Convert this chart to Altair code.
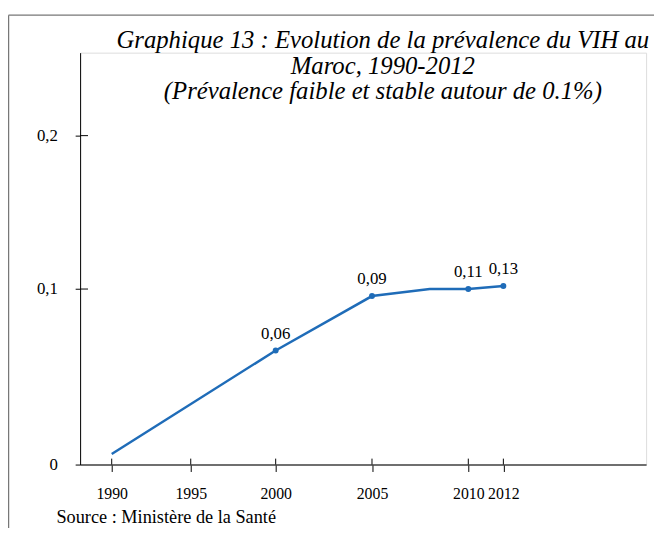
import altair as alt
import pandas as pd

years = [1990, 2000, 2005, 2008, 2010, 2012]
values = [0.006, 0.065, 0.096, 0.100, 0.100, 0.102]
marker_years = [2000, 2005, 2010, 2012]
marker_values = [0.065, 0.096, 0.100, 0.102]
marker_labels = ["0,06", "0,09", "0,11", "0,13"]
x_ticks = [1990, 1995, 2000, 2005, 2010, 2012]
y_ticks = [0, 0.1, 0.2]
title_lines = [
    "Graphique 13 : Evolution de la prévalence du VIH au",
    "Maroc, 1990-2012",
    "(Prévalence faible et stable autour de 0.1%)",
]
source_text = "Source : Ministère de la Santé"

W, H = 573, 417
FONT = "Liberation Serif"
BLUE = "#1F6CB8"

line_df = pd.DataFrame({"year": years, "value": values})
pts_df = pd.DataFrame({"year": marker_years, "value": marker_values, "label": marker_labels})
xt_df = pd.DataFrame({"year": x_ticks})
yt_df = pd.DataFrame({"v": [v for v in y_ticks if v > 0]})

xscale = alt.Scale(
    type="linear",
    domain=[1988, 1990, 1995, 2000, 2005, 2010, 2012, 2020],
    range=[0, 32, 112, 198, 295.5, 393, 428.5, W],
    nice=False, zero=False,
)
yscale = alt.Scale(
    type="linear",
    domain=[0, 0.1, 0.2, 0.254],
    range=[H, 239.3, 84, 0],
    nice=False, zero=False,
)

xax = alt.Axis(
    values=x_ticks, format="d", grid=False, title=None,
    domainColor="#444", domainWidth=1.5, tickColor="#000", tickSize=7, tickWidth=1,
    labelFont=FONT, labelFontSize=16, labelColor="#000", labelPadding=14,
    labelFlush=False, labelOverlap=False,
)
yax = alt.Axis(
    values=y_ticks, grid=False, title=None,
    labelExpr="datum.value == 0 ? '0' : replace(toString(datum.value), '.', ',')",
    domainColor="#000", domainWidth=1, tickColor="#000", tickSize=5, tickWidth=1,
    labelFont=FONT, labelFontSize=17, labelColor="#000", labelPadding=18,
)

line = alt.Chart(line_df).mark_line(color=BLUE, strokeWidth=2.5).encode(
    x=alt.X("year:Q", scale=xscale, axis=xax),
    y=alt.Y("value:Q", scale=yscale, axis=yax),
)
pts = alt.Chart(pts_df).mark_circle(color=BLUE, size=36, opacity=1).encode(
    x=alt.X("year:Q", scale=xscale),
    y=alt.Y("value:Q", scale=yscale),
)
labels = alt.Chart(pts_df).mark_text(
    font=FONT, fontSize=17, color="#000", dy=-17, baseline="middle"
).encode(
    x=alt.X("year:Q", scale=xscale),
    y=alt.Y("value:Q", scale=yscale),
    text="label:N",
)
# inner half of the crossing ticks
xt_inner = alt.Chart(xt_df).mark_rule(color="#000", strokeWidth=1).encode(
    x=alt.X("year:Q", scale=xscale),
    y=alt.value(H - 6), y2=alt.value(H),
)
yt_inner = alt.Chart(yt_df).mark_rule(color="#000", strokeWidth=1).encode(
    y=alt.Y("v:Q", scale=yscale),
    x=alt.value(0), x2=alt.value(8),
)
# frame of the figure
frame_top = alt.Chart(pd.DataFrame({"a": [0]})).mark_rule(color="#777", strokeWidth=1.5).encode(
    x=alt.value(-72.5), x2=alt.value(W + 10), y=alt.value(-38)
)
frame_left = alt.Chart(pd.DataFrame({"a": [0]})).mark_rule(color="#777", strokeWidth=1.5).encode(
    x=alt.value(-72.5), y=alt.value(-38), y2=alt.value(H + 70)
)
source = alt.Chart(pd.DataFrame({"t": [source_text]})).mark_text(
    font=FONT, fontSize=18.5, color="#000", align="left", baseline="middle"
).encode(x=alt.value(-24), y=alt.value(470), text="t:N")

chart = alt.layer(frame_top, frame_left, line, pts, labels, xt_inner, yt_inner, source).properties(
    width=W, height=H,
    title=alt.Title(
        text=title_lines, anchor="middle", dx=20, dy=91, offset=0,
        font=FONT, fontSize=25, fontStyle="italic", fontWeight="normal",
        color="#000", lineHeight=26,
    ),
    autosize=alt.AutoSizeParams(type="none"),
    padding={"left": 73, "top": 42, "right": 8, "bottom": 61},
).configure_view(stroke=None).configure(background="white")

chart.save("out.html", embed_options={"renderer": "svg", "actions": False})
